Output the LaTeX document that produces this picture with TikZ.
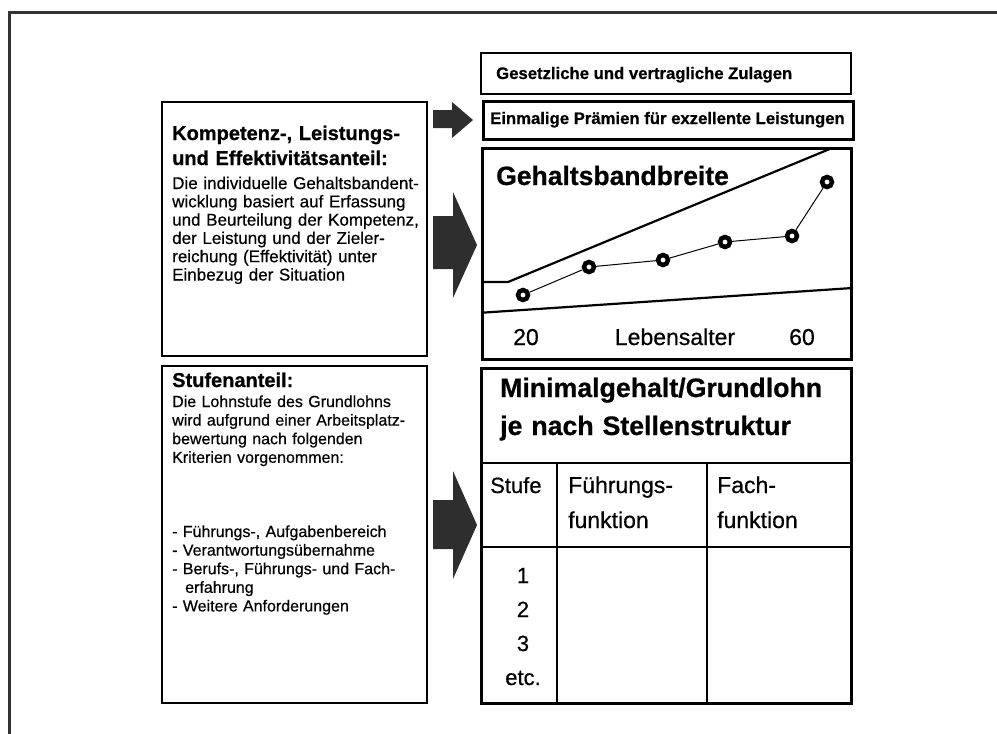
\documentclass[tikz,border=0pt]{standalone}
\usepackage{fontspec}
\setmainfont{Liberation Sans}[UprightFeatures={FakeBold=0.5}, BoldFeatures={FakeBold=0.7}]
\usetikzlibrary{positioning,calc}

\begin{document}
\begin{tikzpicture}[x=1pt,y=-1pt,
    box/.style={draw, line width=2pt, inner sep=0pt, anchor=north west},
    thickbox/.style={box, line width=3pt},
    dot/.style={circle, draw, fill=white, line width=4.5pt, minimum size=10pt, inner sep=0pt},
    blockarrow/.style={fill=black!82},
    lbl/.style={inner sep=0pt, anchor=base west},
    para/.style={lbl, align=left, text width=#1},
    para/.default=260pt]
    \useasboundingbox (0,0) rectangle (997,734);

    % frame of the page (cut off at right and bottom)
    \draw[line width=2.2pt, black!80] (997,12.5) -- (9.5,12.5) -- (9.5,734);

    % right column boxes
    \node[box, minimum width=370pt, minimum height=41pt] (zulagen) at (480,52) {};
    \node[thickbox, minimum width=370pt, minimum height=38pt] (praemien) at (482,100) {};
    \node[thickbox, minimum width=369pt, minimum height=211pt] (band) at (481,147) {};
    \node[thickbox, minimum width=370pt, minimum height=335pt] (grundlohn) at (480,367) {};

    % left column boxes
    \node[box, minimum width=265pt, minimum height=254pt] (kompetenz) at (161,101) {};
    \node[box, minimum width=265pt, minimum height=337pt] (stufen) at (161,365) {};

    % block arrows
    \fill[blockarrow] (433,110) -- (452,110) -- (452,102) -- (473,120) -- (452,138) -- (452,128) -- (433,128) -- cycle;
    \fill[blockarrow] (433,216) -- (453,216) -- (453,192) -- (477,245) -- (453,298) -- (453,269) -- (433,269) -- cycle;
    \fill[blockarrow] (433,500) -- (453,500) -- (453,471) -- (477,525) -- (453,579) -- (453,549) -- (433,549) -- cycle;

    % top boxes text
    \node[lbl, font={\bfseries\fontsize{16.7}{20}\selectfont}] (zulagentxt) at (496,79) {Gesetzliche und vertragliche Zulagen};
    \node[lbl, font={\bfseries\fontsize{16.7}{20}\selectfont}] (praemientxt) at (490,124) {Einmalige Prämien für exzellente Leistungen};

    % salary band
    \begin{scope}
        \clip (band.north west) rectangle (band.south east);
        \draw[line width=2.2pt] (470,282) -- (508,282) -- (850,140.6);
        \draw[line width=2.2pt] (470,313.5) -- (860,287.5);
    \end{scope}
    \node[lbl, font={\bfseries\fontsize{26.5}{30}\selectfont}] (bandtitle) at (496,185) {Gehaltsbandbreite};
    \node[dot] (p1) at (523,295) {};
    \node[dot] (p2) at (589,267) {};
    \node[dot] (p3) at (663,260) {};
    \node[dot] (p4) at (725,242) {};
    \node[dot] (p5) at (792,236) {};
    \node[dot] (p6) at (827,182) {};
    \draw[line width=1pt] (p1) -- (p2) -- (p3) -- (p4) -- (p5) -- (p6);
    \node[inner sep=0pt, anchor=base, font=\fontsize{23}{26}\selectfont] (age20) at (526,345) {20};
    \node[inner sep=0pt, anchor=base, font=\fontsize{23}{26}\selectfont] (agelabel) at (675,345) {Lebensalter};
    \node[inner sep=0pt, anchor=base, font=\fontsize{23}{26}\selectfont] (age60) at (802,345) {60};

    % left upper box text
    \node[para, font={\bfseries\fontsize{20}{25}\selectfont}] (kompetenzhead) at (172,140) {Kompetenz-, Leistungs-\\und Effektivitätsanteil:};
    \node[para, font={\fontsize{17}{18.3}\selectfont}] (kompetenzbody) at (172,189)
        {Die individuelle Gehaltsbandent-\\wicklung basiert auf Erfassung\\und Beurteilung der Kompetenz,\\der Leistung und der Zieler-\\reichung (Effektivität) unter\\Einbezug der Situation};

    % left lower box text
    \node[lbl, font={\bfseries\fontsize{20}{25}\selectfont}] (stufenhead) at (172,387) {Stufenanteil:};
    \node[para, font={\fontsize{16}{18.6}\selectfont}] (stufenbody) at (172,407)
        {Die Lohnstufe des Grundlohns\\wird aufgrund einer Arbeitsplatz-\\bewertung nach folgenden\\Kriterien vorgenommen:};
    \node[para, font={\fontsize{16}{18.6}\selectfont}] (kriterien) at (172,537)
        {- Führungs-, Aufgabenbereich\\- Verantwortungsübernahme\\- Berufs-, Führungs- und Fach-\\\hspace*{13pt}erfahrung\\- Weitere Anforderungen};

    % base salary table
    \coordinate (colA) at (557,463);
    \coordinate (colB) at (707,463);
    \draw[line width=2pt] (grundlohn.west |- colA) -- (grundlohn.east |- colA);
    \draw[line width=2pt] (grundlohn.west |- 0,547) -- (grundlohn.east |- 0,547);
    \draw[line width=2pt] (colA) -- (colA |- grundlohn.south);
    \draw[line width=2pt] (colB) -- (colB |- grundlohn.south);
    \node[para=340pt, font={\bfseries\fontsize{26.7}{38}\selectfont}] (grundlohntitle) at (500,397) {Minimalgehalt/Grundlohn\\je nach Stellenstruktur};
    \node[lbl, font=\fontsize{22}{35}\selectfont] (stufecol) at (490,493) {Stufe};
    \node[para=130pt, font=\fontsize{23}{35}\selectfont] (fuehrungcol) at (568,493) {Führungs-\\funktion};
    \node[para=130pt, font=\fontsize{23}{35}\selectfont] (fachcol) at (717,493) {Fach-\\funktion};
    \node[inner sep=0pt, anchor=base, align=center, text width=70pt, font=\fontsize{22}{34}\selectfont] (stufennr) at (523,583) {1\\2\\3\\etc.};
\end{tikzpicture}
\end{document}
